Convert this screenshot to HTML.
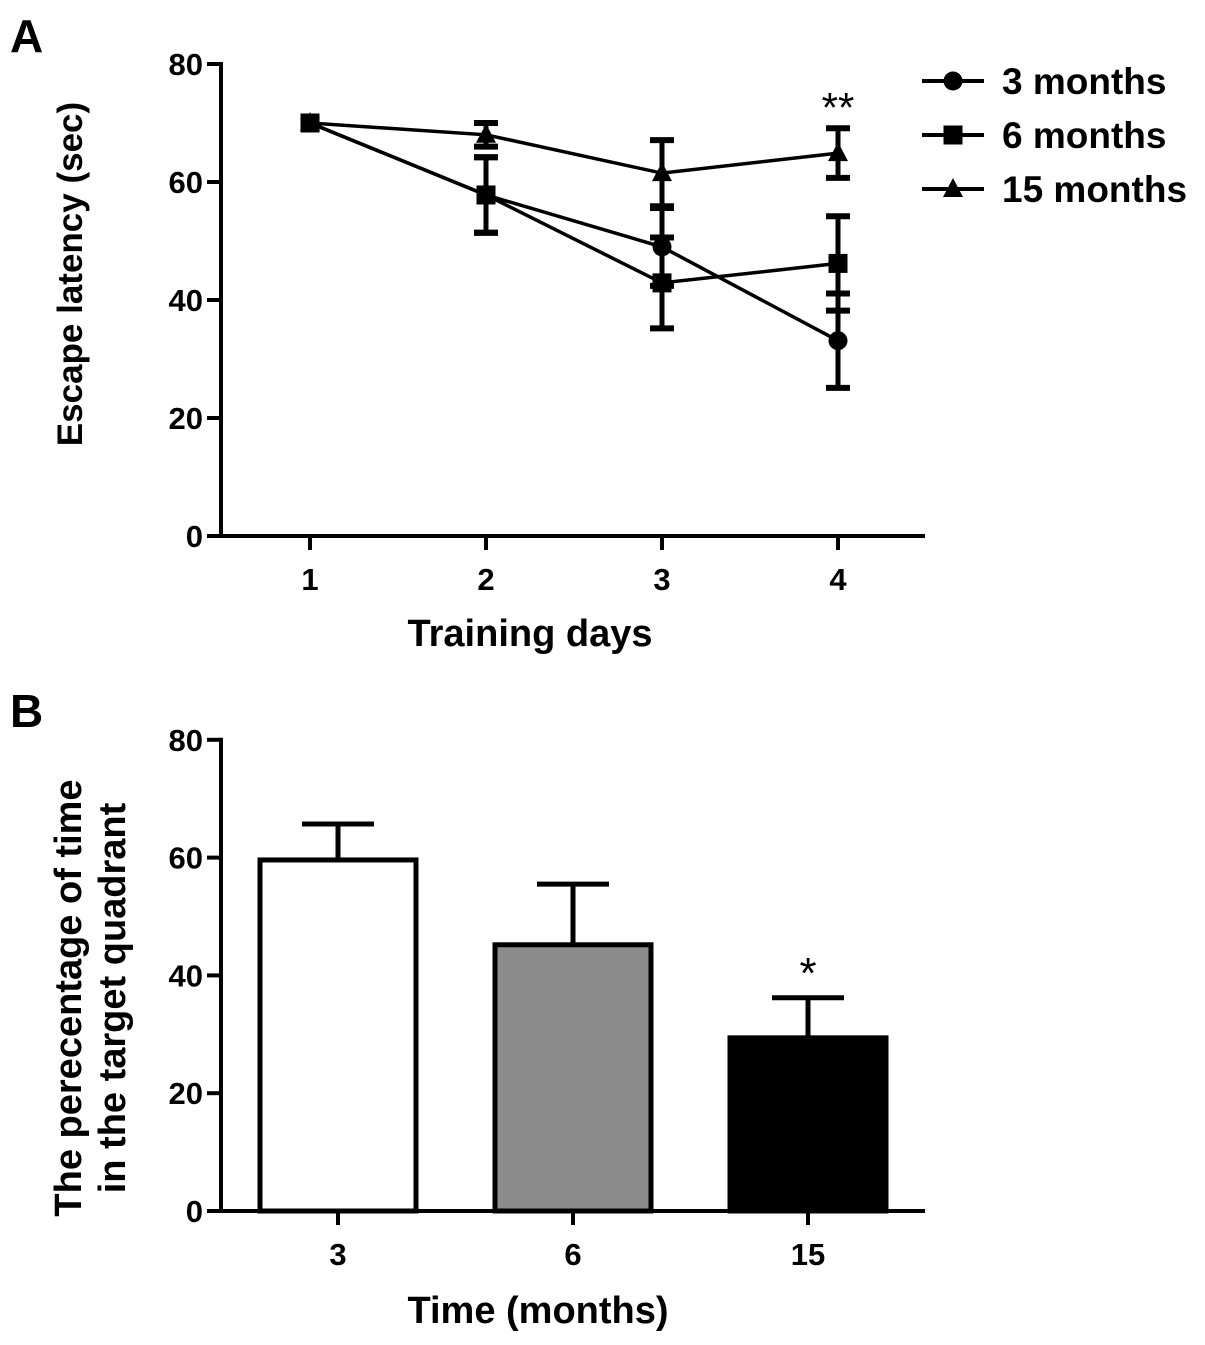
<!DOCTYPE html>
<html><head><meta charset="utf-8"><style>
body{margin:0;background:#fff}
svg{display:block;font-family:"Liberation Sans",Arial,sans-serif;font-weight:bold}
</style></head><body>
<svg id="s" width="1205" height="1345" viewBox="0 0 1205 1345"></svg>
<script>
const days=[1,2,3,4];
const m3=[70,57.8,49,33.1];
const m3err=[0,6.4,6.6,8];
const m6=[70,57.8,42.9,46.2];
const m6err=[0,6.4,7.7,8];
const m15=[70,68,61.5,64.9];
const m15err=[0,2,5.6,4.2];
const yTicksA=[0,20,40,60,80];
const barCats=["3","6","15"];
const barVals=[59.6,45.2,29.4];
const barErr=[6.1,10.3,6.8];
const barFill=["#fff","#8c8c8c","#000"];
const yTicksB=[0,20,40,60,80];

const NS="http://www.w3.org/2000/svg";
const svg=document.getElementById('s');
function el(t,a,p){const e=document.createElementNS(NS,t);for(const k in a)e.setAttribute(k,a[k]);(p||svg).appendChild(e);return e;}
function txt(s,a,p){const e=el('text',a,p);e.textContent=s;return e;}

// Panel A
const xA=d=>310+(d-1)*176;
const yA=v=>536-v*5.9;
const gA=el('g',{});


txt('A',{x:10,y:52,'font-size':46},gA);
el('line',{x1:221,y1:yA(80)-2,x2:221,y2:yA(0)+2,stroke:'#000','stroke-width':4},gA);
el('line',{x1:219,y1:yA(0),x2:925,y2:yA(0),stroke:'#000','stroke-width':4},gA);
yTicksA.forEach(v=>{
 el('line',{x1:207,y1:yA(v),x2:221,y2:yA(v),stroke:'#000','stroke-width':4},gA);
 const t=txt(String(v),{x:203,y:yA(v)+11,'font-size':31,'text-anchor':'end'},gA);
 
 
});
days.forEach(d=>{
 el('line',{x1:xA(d),y1:yA(0),x2:xA(d),y2:yA(0)+14,stroke:'#000','stroke-width':4},gA);
 const t=txt(String(d),{x:xA(d),y:yA(0)+54,'font-size':31,'text-anchor':'middle'},gA);
 
 
});
const xt=txt('Training days',{x:530,y:646,'font-size':38,'text-anchor':'middle'},gA);


const yt=txt('Escape latency (sec)',{x:0,y:0,'font-size':35,'text-anchor':'middle',transform:'translate(82,274) rotate(-90)'},gA);



function marker(type,x,y,p){
 if(type==='c')return el('circle',{cx:x,cy:y,r:9.5},p);
 if(type==='s')return el('rect',{x:x-9.5,y:y-9.5,width:19,height:19},p);
 return el('polygon',{points:`${x},${y-11} ${x+10},${y+8} ${x-10},${y+8}`},p);
}
const series=[[m3,m3err,'c','series-3-months'],[m6,m6err,'s','series-6-months'],[m15,m15err,'t','series-15-months']];
series.forEach(([v,e,mk,nm])=>{
 const g=el('g',{},gA);
 
 
 el('polyline',{points:days.map((d,i)=>xA(d)+','+yA(v[i])).join(' '),fill:'none',stroke:'#000','stroke-width':3.5},g);
 days.forEach((d,i)=>{
  if(e[i]>0){
   el('line',{x1:xA(d),y1:yA(v[i]-e[i]),x2:xA(d),y2:yA(v[i]+e[i]),stroke:'#000','stroke-width':5},g);
   [v[i]-e[i],v[i]+e[i]].forEach(w=>el('line',{x1:xA(d)-12,y1:yA(w),x2:xA(d)+12,y2:yA(w),stroke:'#000','stroke-width':6},g));
  }
  const m=marker(mk,xA(d),yA(v[i]),g);
  
  
 });
});
txt('**',{x:838,y:122,'font-size':42,'text-anchor':'middle','font-weight':'normal'},gA);
// legend
const legNames=['3 months','6 months','15 months'];
['c','s','t'].forEach((mk,i)=>{
 const g=el('g',{},gA);
 
 
 const y=81+i*54;
 el('line',{x1:922,y1:y,x2:984,y2:y,stroke:'#000','stroke-width':4},g);
 marker(mk,953,y,g);
 txt(legNames[i],{x:1002,y:y+13,'font-size':37},g);
});

// Panel B
const yB=v=>1211-v*5.89;
const xB=i=>338+i*235;
const gB=el('g',{});


txt('B',{x:10,y:727,'font-size':46},gB);
el('line',{x1:221,y1:yB(80)-2,x2:221,y2:yB(0)+2,stroke:'#000','stroke-width':4},gB);
el('line',{x1:219,y1:yB(0),x2:925,y2:yB(0),stroke:'#000','stroke-width':4},gB);
yTicksB.forEach(v=>{
 el('line',{x1:207,y1:yB(v),x2:221,y2:yB(v),stroke:'#000','stroke-width':4},gB);
 const t=txt(String(v),{x:203,y:yB(v)+11,'font-size':31,'text-anchor':'end'},gB);
 
 
});
barCats.forEach((c,i)=>{
 const x=xB(i);
 const top=yB(barVals[i]+barErr[i]);
 el('line',{x1:x,y1:yB(barVals[i]),x2:x,y2:top,stroke:'#000','stroke-width':5},gB);
 el('line',{x1:x-36,y1:top,x2:x+36,y2:top,stroke:'#000','stroke-width':5},gB);
 const b=el('rect',{x:x-78,y:yB(barVals[i]),width:156,height:yB(0)-yB(barVals[i]),fill:barFill[i],stroke:'#000','stroke-width':5},gB);
 
 
 el('line',{x1:x,y1:yB(0),x2:x,y2:yB(0)+14,stroke:'#000','stroke-width':4},gB);
 const t=txt(c,{x:x,y:yB(0)+54,'font-size':31,'text-anchor':'middle'},gB);
 
 
});
txt('*',{x:xB(2),y:yB(barVals[2]+barErr[2])-10,'font-size':44,'text-anchor':'middle','font-weight':'normal'},gB);
const xtb=txt('Time (months)',{x:538,y:1323,'font-size':38,'text-anchor':'middle'},gB);


const ytb=el('text',{'font-size':38,'text-anchor':'middle',transform:'translate(81,998) rotate(-90)'},gB);


const t1=el('tspan',{x:0,y:0},ytb);t1.textContent='The perecentage of time';
const t2=el('tspan',{x:0,y:44},ytb);t2.textContent='in the target quadrant';
</script>
</body></html>
